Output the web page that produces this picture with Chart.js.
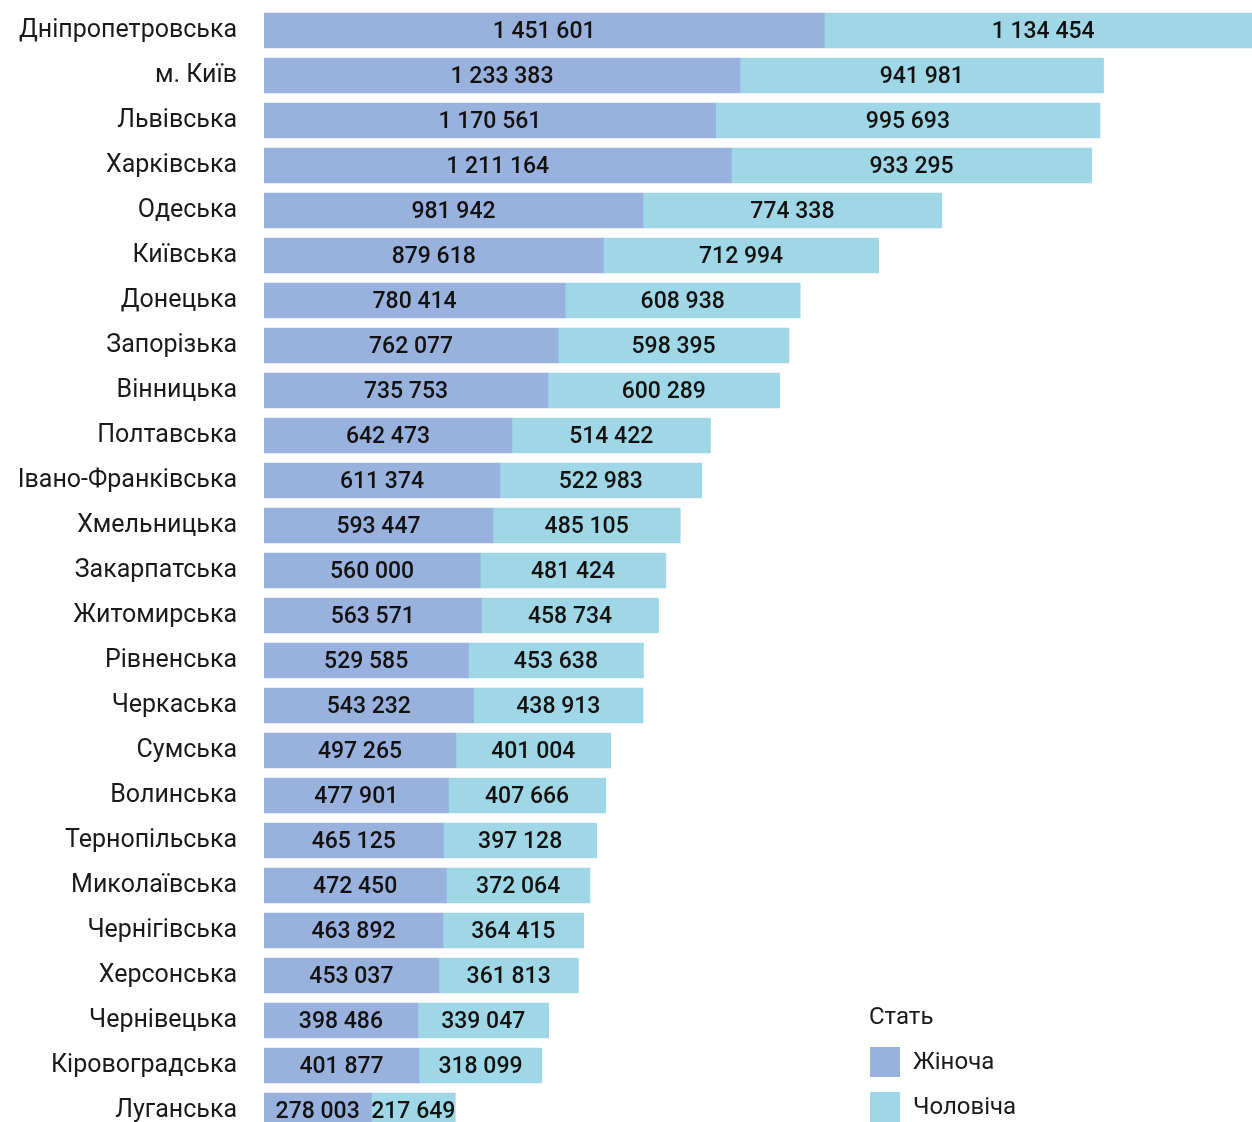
<!DOCTYPE html>
<html><head><meta charset="utf-8">
<script src="https://cdn.jsdelivr.net/npm/chart.js@4"></script>
<style>
html,body{margin:0;padding:0;overflow:hidden;background:#fff;width:1252px;height:1122px}
canvas{display:block}
</style></head>
<body><canvas id="c" width="1252" height="1133"></canvas>
<script>
const regions = ['Дніпропетровська','м. Київ','Львівська','Харківська','Одеська','Київська','Донецька','Запорізька','Вінницька','Полтавська','Івано-Франківська','Хмельницька','Закарпатська','Житомирська','Рівненська','Черкаська','Сумська','Волинська','Тернопільська','Миколаївська','Чернігівська','Херсонська','Чернівецька','Кіровоградська','Луганська'];
const female = [1451601,1233383,1170561,1211164,981942,879618,780414,762077,735753,642473,611374,593447,560000,563571,529585,543232,497265,477901,465125,472450,463892,453037,398486,401877,278003];
const male = [1134454,941981,995693,933295,774338,712994,608938,598395,600289,514422,522983,485105,481424,458734,453638,438913,401004,407666,397128,372064,364415,361813,339047,318099,217649];
const seriesNames = ['Жіноча','Чоловіча'];
const legendTitle = 'Стать';
const colors = ['#99b2dd','#9fd7e7'];
const FONT = 'Roboto, "DejaVu Sans", sans-serif';

const fmt = n => String(n).replace(/\B(?=(\d{3})+(?!\d))/g,' ');

const valueLabels = {
  id:'valueLabels',
  afterDatasetsDraw(chart){
    const ctx = chart.ctx;
    ctx.save();
    ctx.font = '500 23px ' + FONT;
    ctx.fillStyle = '#111';
    ctx.textAlign = 'center';
    ctx.textBaseline = 'middle';
    chart.data.datasets.forEach((ds,i)=>{
      chart.getDatasetMeta(i).data.forEach((bar,j)=>{
        ctx.fillText(fmt(ds.data[j]), (bar.x+bar.base)/2, bar.y+2);
      });
    });
    ctx.restore();
  }
};

const legendBox = {
  id:'legendBox',
  afterDraw(chart){
    const ctx = chart.ctx;
    ctx.save();
    ctx.textBaseline = 'middle';
    ctx.textAlign = 'left';
    ctx.fillStyle = '#1a1a1a';
    ctx.font = '24px ' + FONT;
    ctx.fillText(legendTitle, 869, 1018);
    chart.data.datasets.forEach((ds,i)=>{
      const y = 1047 + i*45;
      ctx.fillStyle = ds.backgroundColor;
      ctx.fillRect(870, y, 30, 30);
      ctx.fillStyle = '#1a1a1a';
      ctx.fillText(ds.label, 913, y+16);
    });
    ctx.restore();
  }
};

new Chart(document.getElementById('c'), {
  type:'bar',
  data:{
    labels: regions,
    datasets:[
      {label: seriesNames[0], data: female, backgroundColor: colors[0], barThickness:35},
      {label: seriesNames[1], data: male, backgroundColor: colors[1], barThickness:35}
    ]
  },
  options:{
    indexAxis:'y',
    responsive:false,
    animation:false,
    layout:{padding:{top:8,bottom:0,right:0,left:0}},
    plugins:{legend:{display:false},tooltip:{enabled:false}},
    scales:{
      x:{stacked:true,display:false,min:0,max:2560000},
      y:{stacked:true,
         grid:{display:false,drawTicks:false},
         border:{display:false},
         ticks:{font:{family:FONT,size:25},color:'#1a1a1a',padding:27},
         afterFit(s){ s.width = 264; s.paddingTop = 0; s.paddingBottom = 0; }
      }
    }
  },
  plugins:[valueLabels, legendBox]
});
</script>
</body></html>
